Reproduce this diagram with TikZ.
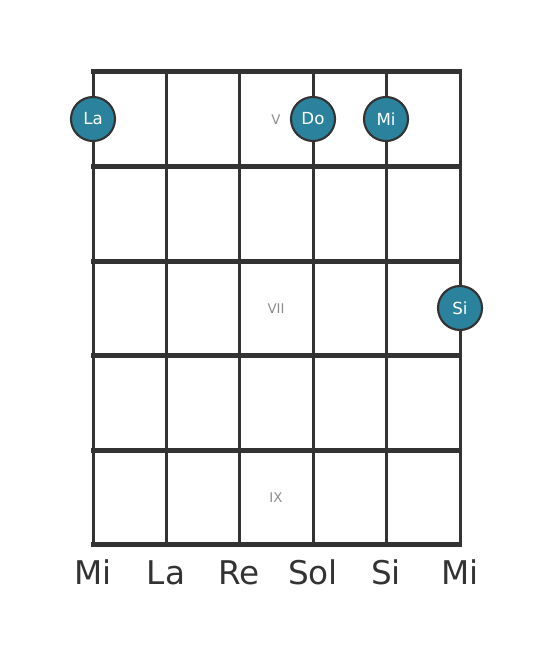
\documentclass[tikz,border=0pt]{standalone}
\usepackage{fontspec}
\setmainfont{DejaVu Sans}
\begin{document}
\begin{tikzpicture}[x=0.75pt,y=-0.75pt,
  gridline/.style={draw=linecol, line width=3pt*0.75},
  fretline/.style={draw=linecol, line width=5pt*0.75},
  notedot/.style={circle, draw=linecol, line width=1.6pt, fill=dotcol, minimum size=44*0.75pt, inner sep=0pt, text=white, font=\fontsize{12.5}{12.5}\selectfont},
  roman/.style={text=gray!90, font=\fontsize{10}{10}\selectfont},
  strlabel/.style={text=linecol, font=\fontsize{24.5}{25}\selectfont, anchor=base}]
\definecolor{linecol}{HTML}{333333}
\definecolor{dotcol}{HTML}{2A829C}
\useasboundingbox (0,0) rectangle (553,656);
% coordinates
\foreach \i/\x in {1/93,2/166,3/239,4/313,5/386,6/460}{
  \coordinate (st\i) at (\x,72);
  \coordinate (sb\i) at (\x,544);
}
\foreach \j/\y in {0/72,1/166,2/261,3/355,4/450,5/544}{
  \coordinate (fl\j) at (91,\y);
  \coordinate (fr\j) at (462,\y);
}
\foreach \i in {1,...,6}{ \draw[gridline] (st\i) -- (sb\i); }
\foreach \j in {0,...,5}{ \draw[fretline] (fl\j) -- (fr\j); }
% fret numbers
\node[roman] (r5) at (276,120) {V};
\node[roman] (r7) at (276,309) {VII};
\node[roman] (r9) at (276,498) {IX};
% dots
\node[notedot] (dLa) at (93,119) {La};
\node[notedot] (dDo) at (313,119) {Do};
\node[notedot] (dMi) at (386,119) {Mi};
\node[notedot] (dSi) at (460,308) {Si};
% string labels
\node[strlabel] (l1) at (93,584) {Mi};
\node[strlabel] (l2) at (166,584) {La};
\node[strlabel] (l3) at (239,584) {Re};
\node[strlabel] (l4) at (313,584) {Sol};
\node[strlabel] (l5) at (386,584) {Si};
\node[strlabel] (l6) at (460,584) {Mi};
\end{tikzpicture}
\end{document}
